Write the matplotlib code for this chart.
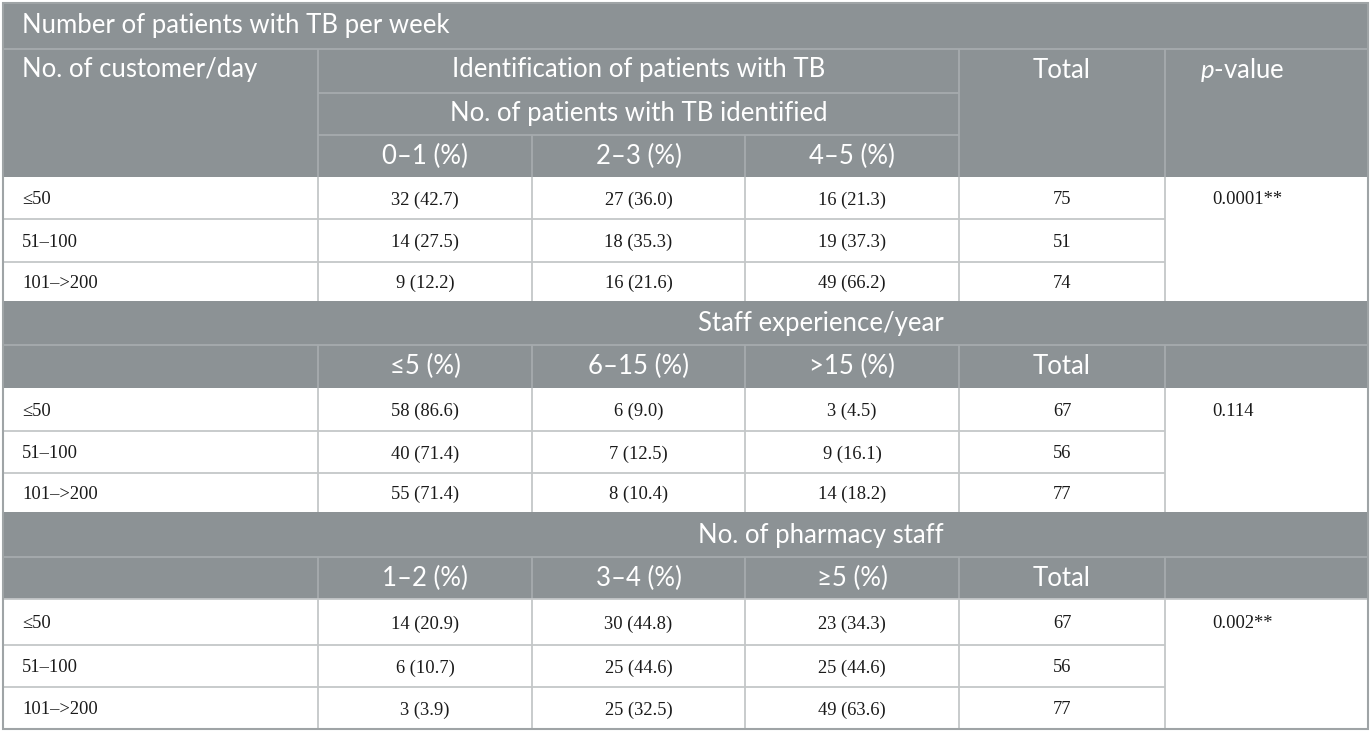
import matplotlib
matplotlib.use("Agg")
import matplotlib.pyplot as plt
from matplotlib.patches import Rectangle

plt.rcParams['mathtext.fontset'] = 'custom'
plt.rcParams['mathtext.rm'] = 'Lato'
plt.rcParams['mathtext.it'] = 'Lato:italic'

# ---------------- data ----------------
title = "Number of patients with TB per week"
row_header = "No. of customer/day"
row_labels = ["≤50", "51–100", "101–>200"]

sec1_title = "Identification of patients with TB"
sec1_sub = "No. of patients with TB identified"
sec1_cols = ["0–1 (%)", "2–3 (%)", "4–5 (%)"]
sec1_n = [[32, 27, 16], [14, 18, 19], [9, 16, 49]]
sec1_pct = [[42.7, 36.0, 21.3], [27.5, 35.3, 37.3], [12.2, 21.6, 66.2]]
sec1_total = [75, 51, 74]
sec1_p = "0.0001**"

sec2_title = "Staff experience/year"
sec2_cols = ["≤5 (%)", "6–15 (%)", ">15 (%)"]
sec2_n = [[58, 6, 3], [40, 7, 9], [55, 8, 14]]
sec2_pct = [[86.6, 9.0, 4.5], [71.4, 12.5, 16.1], [71.4, 10.4, 18.2]]
sec2_total = [67, 56, 77]
sec2_p = "0.114"

sec3_title = "No. of pharmacy staff"
sec3_cols = ["1–2 (%)", "3–4 (%)", "≥5 (%)"]
sec3_n = [[14, 30, 23], [6, 25, 25], [3, 25, 49]]
sec3_pct = [[20.9, 44.8, 34.3], [10.7, 44.6, 44.6], [3.9, 32.5, 63.6]]
sec3_total = [67, 56, 77]
sec3_p = "0.002**"

# ---------------- layout ----------------
W, H = 1372, 731
fig = plt.figure(figsize=(W / 100, H / 100), dpi=100)
ax = fig.add_axes([0, 0, 1, 1])
ax.set_xlim(0, W)
ax.set_ylim(H, 0)
ax.axis('off')

HDR_BG = '#8c9295'
HDR_LINE = '#a6abae'
DATA_LINE = '#c4c7c8'
BORDER = '#9fa4a6'
HFONT = ['Lato', 'DejaVu Sans']
DFONT = ['Liberation Serif', 'DejaVu Serif']
HSIZE = 18.5
DSIZE = 13.3

L, R = 3, 1368
xs = [3, 318, 532, 745, 959, 1165, 1368]


def rect(x0, y0, x1, y1, color):
    ax.add_patch(Rectangle((x0, y0), x1 - x0, y1 - y0, facecolor=color,
                           edgecolor='none', zorder=1))


def hline(y, x0, x1, color, lw=1.3):
    ax.plot([x0, x1], [y, y], color=color, lw=lw, zorder=2,
            solid_capstyle='butt')


def vline(x, y0, y1, color, lw=1.3):
    ax.plot([x, x], [y0, y1], color=color, lw=lw, zorder=2,
            solid_capstyle='butt')


def htext(x, y, s, ha='center'):
    ax.text(x, y, s, ha=ha, va='center', color='white', fontsize=HSIZE,
            family=HFONT, zorder=3)


def dtext(x, y, s, ha='center'):
    ax.text(x, y, s, ha=ha, va='center', color='#1a1a1a', fontsize=DSIZE,
            family=DFONT, zorder=3)


def data_block(y0, ys, n, pct, total, p):
    rect(L, y0, R, ys[-1], 'white')
    for y in ys[1:-1]:
        hline(y, L, xs[5], DATA_LINE)
    for x in xs[1:6]:
        vline(x, y0, ys[-1], DATA_LINE)
    for i in range(3):
        yc = (ys[i] + ys[i + 1]) / 2 + 2
        dtext(22, yc, row_labels[i], ha='left')
        for j in range(3):
            dtext((xs[j + 1] + xs[j + 2]) / 2, yc, f"{n[i][j]} ({pct[i][j]:.1f})")
        dtext((xs[4] + xs[5]) / 2, yc, str(total[i]))
    dtext(1212, (ys[0] + ys[1]) / 2 + 2, p, ha='left')


# ----- section 1 header -----
rect(L, 3, R, 177, HDR_BG)
hline(49, L, R, HDR_LINE)
for x in (318, 959, 1165):
    vline(x, 49, 177, HDR_LINE)
hline(93, 318, 959, HDR_LINE)
hline(135, 318, 959, HDR_LINE)
vline(532, 135, 177, HDR_LINE)
vline(745, 135, 177, HDR_LINE)

htext(22, 26, title, ha='left')
htext(22, 70, row_header, ha='left')
htext((318 + 959) / 2, 70, sec1_title)
htext((959 + 1165) / 2, 70, "Total")
htext(1200, 70, r"$\it{p}$-value", ha='left')
htext((318 + 959) / 2, 113, sec1_sub)
for j in range(3):
    htext((xs[j + 1] + xs[j + 2]) / 2, 156, sec1_cols[j])

data_block(177, [177, 219, 262, 301], sec1_n, sec1_pct, sec1_total, sec1_p)

# ----- section 2 -----
rect(L, 301, R, 388, HDR_BG)
hline(345, L, R, HDR_LINE)
for x in xs[1:6]:
    vline(x, 345, 388, HDR_LINE)
htext(821, 323, sec2_title)
for j in range(3):
    htext((xs[j + 1] + xs[j + 2]) / 2, 366, sec2_cols[j])
htext((xs[4] + xs[5]) / 2, 366, "Total")
data_block(388, [388, 431, 473, 512], sec2_n, sec2_pct, sec2_total, sec2_p)

# ----- section 3 -----
rect(L, 512, R, 599, HDR_BG)
hline(557, L, R, HDR_LINE)
for x in xs[1:6]:
    vline(x, 557, 599, HDR_LINE)
htext(821, 535, sec3_title)
for j in range(3):
    htext((xs[j + 1] + xs[j + 2]) / 2, 578, sec3_cols[j])
htext((xs[4] + xs[5]) / 2, 578, "Total")
data_block(599, [599, 645, 687, 729], sec3_n, sec3_pct, sec3_total, sec3_p)
hline(599, L, R, DATA_LINE)

# outer border
ax.add_patch(Rectangle((L, 3), R - L, 726, facecolor='none',
                       edgecolor=BORDER, lw=1.5, zorder=4))

fig.savefig("out.png", dpi=100)
